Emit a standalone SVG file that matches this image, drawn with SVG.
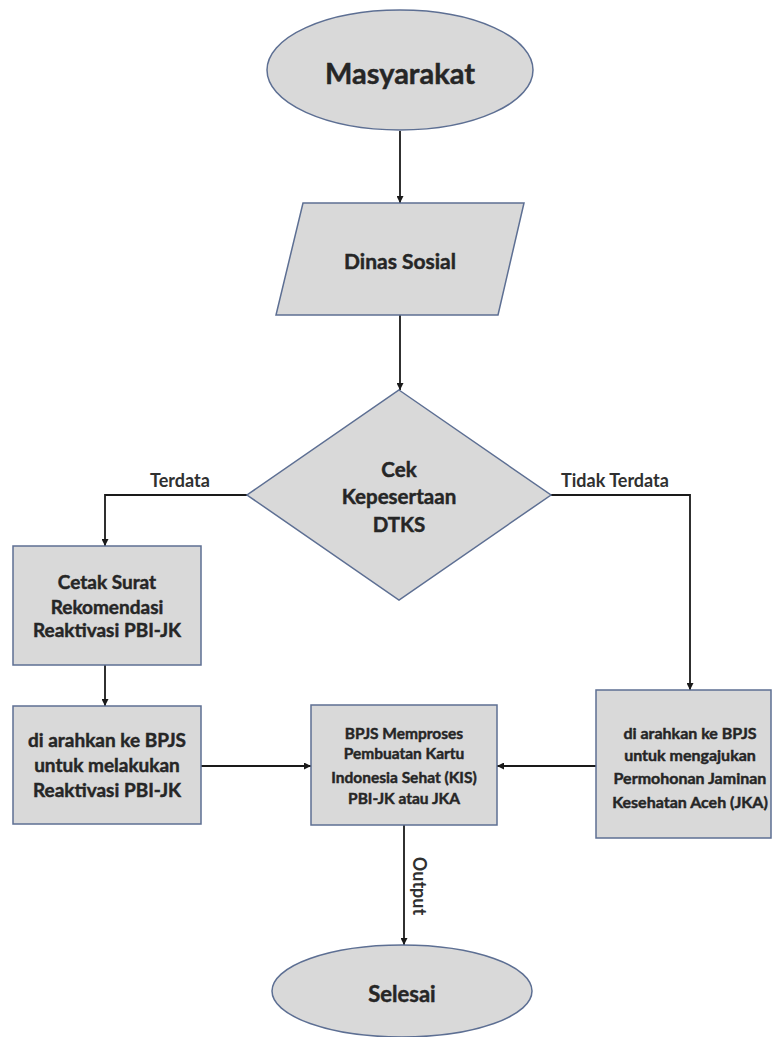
<svg xmlns="http://www.w3.org/2000/svg" width="773" height="1037" viewBox="0 0 773 1037">
<defs>
<marker id="arr" viewBox="0 0 10 10" refX="10" refY="5" markerWidth="7" markerHeight="7" markerUnits="userSpaceOnUse" orient="auto">
<path d="M0,0 L10,5 L0,10 z" fill="#1a1a1a"/>
</marker>
<style>
.shape{fill:#d9d9d9;stroke:#5d6f93;stroke-width:1.5}
.t{font-family:Lato,"Open Sans","Liberation Sans",sans-serif;font-weight:bold;fill:#262626;stroke:#262626;stroke-width:0.45;text-anchor:middle}
.lbl{font-family:Lato,"Open Sans","Liberation Sans",sans-serif;font-weight:bold;fill:#303030;font-size:18px;text-anchor:middle}
.c{fill:none;stroke:#1a1a1a;stroke-width:1.8;marker-end:url(#arr)}
</style>
</defs>
<rect width="773" height="1037" fill="#ffffff"/>
<g id="connectors">
<path class="c" d="M400,131 L400,203"/>
<path class="c" d="M400,315 L400,390"/>
<path class="c" d="M247,495 L105,495 L105,546"/>
<path class="c" d="M551,495 L690,495 L690,690"/>
<path class="c" d="M105,665 L105,706"/>
<path class="c" d="M201,766 L311,766"/>
<path class="c" d="M596,766 L497,766"/>
<path class="c" d="M404,825 L404,945"/>
<text class="lbl" x="180" y="487">Terdata</text>
<text class="lbl" x="615" y="487">Tidak Terdata</text>
<text class="lbl" transform="translate(413,886) rotate(90)">Output</text>
</g>
<g id="masyarakat">
<ellipse class="shape" cx="400" cy="70" rx="133" ry="60"/>
<text class="t" x="400" y="84" font-size="29">Masyarakat</text>
</g>
<g id="dinas-sosial">
<polygon class="shape" points="303,203 524,203 498,315 276,315"/>
<text class="t" x="400" y="269" font-size="21">Dinas Sosial</text>
</g>
<g id="cek">
<polygon class="shape" points="399,390 551,495 399,600 247,495"/>
<text class="t" x="399" y="477" font-size="20.5">Cek</text>
<text class="t" x="399" y="504" font-size="20.5">Kepesertaan</text>
<text class="t" x="399" y="532" font-size="20.5">DTKS</text>
</g>
<g id="cetak">
<rect class="shape" x="13" y="546" width="188" height="119"/>
<text class="t" x="107" y="589" font-size="19">Cetak Surat</text>
<text class="t" x="107" y="614" font-size="19">Rekomendasi</text>
<text class="t" x="107" y="637" font-size="19">Reaktivasi PBI-JK</text>
</g>
<g id="arahkan-reaktivasi">
<rect class="shape" x="13" y="706" width="188" height="118"/>
<text class="t" x="107" y="747" font-size="19">di arahkan ke BPJS</text>
<text class="t" x="107" y="772" font-size="19">untuk melakukan</text>
<text class="t" x="107" y="797" font-size="19">Reaktivasi PBI-JK</text>
</g>
<g id="bpjs">
<rect class="shape" x="311" y="705" width="186" height="120"/>
<text class="t" x="404" y="739" font-size="15.5">BPJS Memproses</text>
<text class="t" x="404" y="759" font-size="15.5">Pembuatan Kartu</text>
<text class="t" x="404" y="783" font-size="15.5">Indonesia Sehat (KIS)</text>
<text class="t" x="404" y="804" font-size="15.5">PBI-JK atau JKA</text>
</g>
<g id="arahkan-jka">
<rect class="shape" x="596" y="690" width="175" height="148"/>
<text class="t" x="690" y="739" font-size="16">di arahkan ke BPJS</text>
<text class="t" x="690" y="761" font-size="16">untuk mengajukan</text>
<text class="t" x="690" y="784" font-size="16">Permohonan Jaminan</text>
<text class="t" x="690" y="808" font-size="16">Kesehatan Aceh (JKA)</text>
</g>
<g id="selesai">
<ellipse class="shape" cx="402" cy="991" rx="130" ry="46"/>
<text class="t" x="402" y="1002" font-size="22">Selesai</text>
</g>
</svg>
